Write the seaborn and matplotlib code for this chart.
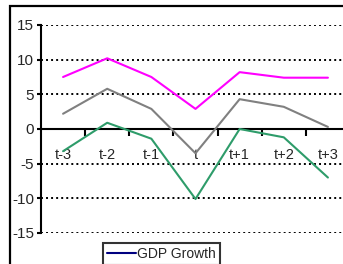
import numpy as np
import pandas as pd
import seaborn as sns
import matplotlib.pyplot as plt
from matplotlib.lines import Line2D
from matplotlib.patches import Rectangle

periods = ["t-3", "t-2", "t-1", "t", "t+1", "t+2", "t+3"]
upper = [7.5, 10.2, 7.5, 2.9, 8.2, 7.4, 7.4]
middle = [2.2, 5.8, 2.9, -3.5, 4.3, 3.2, 0.3]
lower = [-3.2, 0.9, -1.4, -10.1, 0.0, -1.2, -7.0]
series_names = ["upper", "middle", "lower"]
series_colors = ["#ff00ff", "#808080", "#2e9c6a"]
legend_label = "GDP Growth"
yticks = [-15, -10, -5, 0, 5, 10, 15]

df = pd.DataFrame({
    "x": list(range(len(periods))) * 3,
    "value": upper + middle + lower,
    "series": np.repeat(series_names, len(periods)),
})

sns.set_theme(style="white")
plt.rcParams["font.family"] = ["Liberation Sans", "DejaVu Sans"]

fig = plt.figure(figsize=(3.43, 2.64), dpi=100)
ax = fig.add_axes([41 / 343, 1 - 233 / 264, 309 / 343, 208 / 264])

# outer chart frame (cut by the image edges)
fig.patches.append(Rectangle((9.5 / 343, -0.2), 2, 1.2 - 5.5 / 264, transform=fig.transFigure,
                             fill=False, edgecolor="black", linewidth=1.6, clip_on=False))

for y in yticks:
    if y != 0:
        ax.axhline(y, color="black", linestyle=(0, (1, 1.6)), linewidth=1.4, zorder=1)

sns.lineplot(data=df, x="x", y="value", hue="series", palette=dict(zip(series_names, series_colors)),
             linewidth=1.5, legend=False, ax=ax, zorder=3)

ax.set_xlim(-0.5, 6.5)
ax.set_ylim(-15, 15)
ax.set_xlabel("")
ax.set_ylabel("")

for s in ["top", "right"]:
    ax.spines[s].set_visible(False)
ax.spines["left"].set_color("black")
ax.spines["left"].set_linewidth(1.5)
ax.spines["bottom"].set_position(("data", 0))
ax.spines["bottom"].set_color("black")
ax.spines["bottom"].set_linewidth(1.5)

ax.set_yticks(yticks)
ax.set_yticklabels([str(v) for v in yticks], fontsize=11)
ax.tick_params(axis="y", left=True, length=3, width=1.5, color="black", pad=2)

ax.set_xticks(np.arange(0.5, 6, 1))
ax.set_xticklabels([])
ax.tick_params(axis="x", which="major", bottom=True, direction="out", length=5, width=1.5, color="black")
ax.set_xticks(range(len(periods)), minor=True)
ax.set_xticklabels(periods, minor=True, fontsize=10.5)
ax.tick_params(axis="x", which="minor", length=0, pad=14)

handle = Line2D([], [], color="#000080", linewidth=1.5)
leg = fig.legend([handle], [legend_label], loc="upper left", bbox_to_anchor=(103 / 343, 1 - 243 / 264),
                 frameon=True, fancybox=False, edgecolor="black", fontsize=10,
                 handlelength=2.1, handletextpad=0.05, borderpad=0.3, borderaxespad=0)
leg.get_frame().set_linewidth(1.5)

fig.savefig("out.png", dpi=100)
